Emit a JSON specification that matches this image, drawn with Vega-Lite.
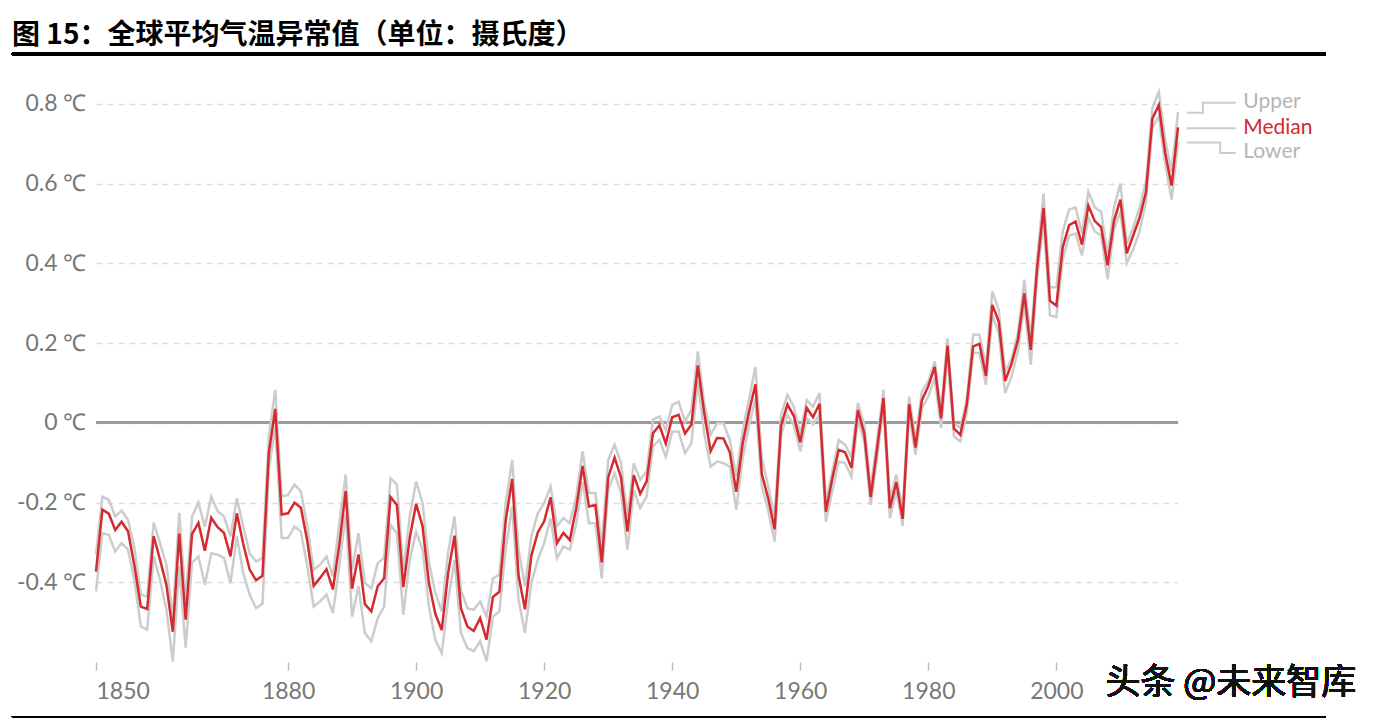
{
  "$schema": "https://vega.github.io/schema/vega-lite/v6.json",
  "width": 1082,
  "height": 578,
  "autosize": {"type": "none"},
  "padding": {"left": 96, "top": 84, "right": 205, "bottom": 59},
  "background": "white",
  "config": {"view": {"stroke": null}, "font": "Lato"},
  "title": {
    "text": "图 15：全球平均气温异常值（单位：摄氏度）",
    "font": "Noto Sans CJK SC",
    "fontSize": 28,
    "fontWeight": "bold",
    "color": "#000000",
    "anchor": "start",
    "frame": "group",
    "dx": -84,
    "offset": 38,
    "dy": 36
  },
  "datasets": {
    "temps": [
      {"year":1850,"median":-0.373,"upper":-0.33,"lower":-0.423},
      {"year":1851,"median":-0.218,"upper":-0.185,"lower":-0.277},
      {"year":1852,"median":-0.228,"upper":-0.193,"lower":-0.281},
      {"year":1853,"median":-0.269,"upper":-0.235,"lower":-0.323},
      {"year":1854,"median":-0.248,"upper":-0.22,"lower":-0.302},
      {"year":1855,"median":-0.272,"upper":-0.243,"lower":-0.318},
      {"year":1856,"median":-0.358,"upper":-0.314,"lower":-0.394},
      {"year":1857,"median":-0.461,"upper":-0.431,"lower":-0.511},
      {"year":1858,"median":-0.467,"upper":-0.436,"lower":-0.519},
      {"year":1859,"median":-0.284,"upper":-0.25,"lower":-0.335},
      {"year":1860,"median":-0.343,"upper":-0.302,"lower":-0.394},
      {"year":1861,"median":-0.407,"upper":-0.356,"lower":-0.469},
      {"year":1862,"median":-0.524,"upper":-0.49,"lower":-0.599},
      {"year":1863,"median":-0.278,"upper":-0.226,"lower":-0.36},
      {"year":1864,"median":-0.494,"upper":-0.444,"lower":-0.564},
      {"year":1865,"median":-0.279,"upper":-0.235,"lower":-0.351},
      {"year":1866,"median":-0.251,"upper":-0.2,"lower":-0.335},
      {"year":1867,"median":-0.321,"upper":-0.261,"lower":-0.406},
      {"year":1868,"median":-0.238,"upper":-0.185,"lower":-0.327},
      {"year":1869,"median":-0.262,"upper":-0.222,"lower":-0.331},
      {"year":1870,"median":-0.276,"upper":-0.235,"lower":-0.339},
      {"year":1871,"median":-0.335,"upper":-0.285,"lower":-0.402},
      {"year":1872,"median":-0.227,"upper":-0.189,"lower":-0.285},
      {"year":1873,"median":-0.304,"upper":-0.26,"lower":-0.377},
      {"year":1874,"median":-0.368,"upper":-0.327,"lower":-0.431},
      {"year":1875,"median":-0.395,"upper":-0.348,"lower":-0.465},
      {"year":1876,"median":-0.384,"upper":-0.339,"lower":-0.454},
      {"year":1877,"median":-0.075,"upper":-0.034,"lower":-0.118},
      {"year":1878,"median":0.035,"upper":0.083,"lower":-0.009},
      {"year":1879,"median":-0.23,"upper":-0.185,"lower":-0.289},
      {"year":1880,"median":-0.227,"upper":-0.181,"lower":-0.289},
      {"year":1881,"median":-0.2,"upper":-0.155,"lower":-0.26},
      {"year":1882,"median":-0.213,"upper":-0.172,"lower":-0.273},
      {"year":1883,"median":-0.296,"upper":-0.26,"lower":-0.36},
      {"year":1884,"median":-0.409,"upper":-0.369,"lower":-0.461},
      {"year":1885,"median":-0.389,"upper":-0.356,"lower":-0.448},
      {"year":1886,"median":-0.367,"upper":-0.335,"lower":-0.431},
      {"year":1887,"median":-0.418,"upper":-0.385,"lower":-0.477},
      {"year":1888,"median":-0.307,"upper":-0.252,"lower":-0.36},
      {"year":1889,"median":-0.171,"upper":-0.13,"lower":-0.227},
      {"year":1890,"median":-0.416,"upper":-0.369,"lower":-0.486},
      {"year":1891,"median":-0.33,"upper":-0.277,"lower":-0.41},
      {"year":1892,"median":-0.455,"upper":-0.402,"lower":-0.527},
      {"year":1893,"median":-0.473,"upper":-0.415,"lower":-0.548},
      {"year":1894,"median":-0.41,"upper":-0.352,"lower":-0.49},
      {"year":1895,"median":-0.39,"upper":-0.339,"lower":-0.461},
      {"year":1896,"median":-0.186,"upper":-0.139,"lower":-0.256},
      {"year":1897,"median":-0.206,"upper":-0.155,"lower":-0.277},
      {"year":1898,"median":-0.412,"upper":-0.369,"lower":-0.481},
      {"year":1899,"median":-0.289,"upper":-0.235,"lower":-0.344},
      {"year":1900,"median":-0.203,"upper":-0.147,"lower":-0.273},
      {"year":1901,"median":-0.259,"upper":-0.201,"lower":-0.318},
      {"year":1902,"median":-0.402,"upper":-0.35,"lower":-0.46},
      {"year":1903,"median":-0.479,"upper":-0.427,"lower":-0.544},
      {"year":1904,"median":-0.52,"upper":-0.473,"lower":-0.578},
      {"year":1905,"median":-0.377,"upper":-0.325,"lower":-0.445},
      {"year":1906,"median":-0.283,"upper":-0.235,"lower":-0.344},
      {"year":1907,"median":-0.465,"upper":-0.419,"lower":-0.527},
      {"year":1908,"median":-0.511,"upper":-0.465,"lower":-0.565},
      {"year":1909,"median":-0.522,"upper":-0.469,"lower":-0.573},
      {"year":1910,"median":-0.49,"upper":-0.448,"lower":-0.548},
      {"year":1911,"median":-0.544,"upper":-0.486,"lower":-0.598},
      {"year":1912,"median":-0.437,"upper":-0.39,"lower":-0.486},
      {"year":1913,"median":-0.424,"upper":-0.381,"lower":-0.473},
      {"year":1914,"median":-0.244,"upper":-0.201,"lower":-0.315},
      {"year":1915,"median":-0.141,"upper":-0.093,"lower":-0.21},
      {"year":1916,"median":-0.383,"upper":-0.318,"lower":-0.444},
      {"year":1917,"median":-0.468,"upper":-0.41,"lower":-0.527},
      {"year":1918,"median":-0.333,"upper":-0.285,"lower":-0.402},
      {"year":1919,"median":-0.275,"upper":-0.227,"lower":-0.344},
      {"year":1920,"median":-0.247,"upper":-0.201,"lower":-0.302},
      {"year":1921,"median":-0.187,"upper":-0.16,"lower":-0.24},
      {"year":1922,"median":-0.302,"upper":-0.26,"lower":-0.34},
      {"year":1923,"median":-0.276,"upper":-0.239,"lower":-0.31},
      {"year":1924,"median":-0.294,"upper":-0.252,"lower":-0.318},
      {"year":1925,"median":-0.215,"upper":-0.185,"lower":-0.255},
      {"year":1926,"median":-0.108,"upper":-0.072,"lower":-0.147},
      {"year":1927,"median":-0.21,"upper":-0.176,"lower":-0.252},
      {"year":1928,"median":-0.206,"upper":-0.176,"lower":-0.252},
      {"year":1929,"median":-0.35,"upper":-0.31,"lower":-0.39},
      {"year":1930,"median":-0.137,"upper":-0.093,"lower":-0.168},
      {"year":1931,"median":-0.087,"upper":-0.055,"lower":-0.126},
      {"year":1932,"median":-0.137,"upper":-0.101,"lower":-0.176},
      {"year":1933,"median":-0.273,"upper":-0.235,"lower":-0.318},
      {"year":1934,"median":-0.131,"upper":-0.101,"lower":-0.168},
      {"year":1935,"median":-0.178,"upper":-0.143,"lower":-0.214},
      {"year":1936,"median":-0.147,"upper":-0.122,"lower":-0.185},
      {"year":1937,"median":-0.026,"upper":0.008,"lower":-0.059},
      {"year":1938,"median":-0.006,"upper":0.016,"lower":-0.043},
      {"year":1939,"median":-0.052,"upper":-0.018,"lower":-0.085},
      {"year":1940,"median":0.014,"upper":0.045,"lower":-0.022},
      {"year":1941,"median":0.02,"upper":0.053,"lower":-0.022},
      {"year":1942,"median":-0.027,"upper":0.003,"lower":-0.076},
      {"year":1943,"median":-0.004,"upper":0.033,"lower":-0.051},
      {"year":1944,"median":0.144,"upper":0.179,"lower":0.104},
      {"year":1945,"median":0.025,"upper":0.049,"lower":-0.026},
      {"year":1946,"median":-0.071,"upper":-0.03,"lower":-0.11},
      {"year":1947,"median":-0.038,"upper":-0.001,"lower":-0.097},
      {"year":1948,"median":-0.039,"upper":-0.001,"lower":-0.101},
      {"year":1949,"median":-0.074,"upper":-0.043,"lower":-0.11},
      {"year":1950,"median":-0.173,"upper":-0.135,"lower":-0.218},
      {"year":1951,"median":-0.052,"upper":-0.02,"lower":-0.09},
      {"year":1952,"median":0.028,"upper":0.06,"lower":-0.005},
      {"year":1953,"median":0.097,"upper":0.14,"lower":0.06},
      {"year":1954,"median":-0.129,"upper":-0.09,"lower":-0.16},
      {"year":1955,"median":-0.19,"upper":-0.16,"lower":-0.22},
      {"year":1956,"median":-0.267,"upper":-0.235,"lower":-0.298},
      {"year":1957,"median":-0.007,"upper":0.02,"lower":-0.03},
      {"year":1958,"median":0.046,"upper":0.07,"lower":0.02},
      {"year":1959,"median":0.017,"upper":0.04,"lower":-0.005},
      {"year":1960,"median":-0.049,"upper":-0.03,"lower":-0.072},
      {"year":1961,"median":0.038,"upper":0.057,"lower":0.012},
      {"year":1962,"median":0.014,"upper":0.04,"lower":-0.004},
      {"year":1963,"median":0.048,"upper":0.075,"lower":0.02},
      {"year":1964,"median":-0.223,"upper":-0.2,"lower":-0.248},
      {"year":1965,"median":-0.14,"upper":-0.122,"lower":-0.172},
      {"year":1966,"median":-0.068,"upper":-0.043,"lower":-0.097},
      {"year":1967,"median":-0.074,"upper":-0.055,"lower":-0.101},
      {"year":1968,"median":-0.113,"upper":-0.085,"lower":-0.135},
      {"year":1969,"median":0.032,"upper":0.05,"lower":0.008},
      {"year":1970,"median":-0.027,"upper":-0.005,"lower":-0.047},
      {"year":1971,"median":-0.186,"upper":-0.164,"lower":-0.206},
      {"year":1972,"median":-0.065,"upper":-0.045,"lower":-0.09},
      {"year":1973,"median":0.062,"upper":0.083,"lower":0.041},
      {"year":1974,"median":-0.214,"upper":-0.193,"lower":-0.239},
      {"year":1975,"median":-0.149,"upper":-0.13,"lower":-0.172},
      {"year":1976,"median":-0.241,"upper":-0.218,"lower":-0.258},
      {"year":1977,"median":0.047,"upper":0.066,"lower":0.024},
      {"year":1978,"median":-0.062,"upper":-0.043,"lower":-0.08},
      {"year":1979,"median":0.057,"upper":0.079,"lower":0.037},
      {"year":1980,"median":0.092,"upper":0.104,"lower":0.066},
      {"year":1981,"median":0.14,"upper":0.154,"lower":0.112},
      {"year":1982,"median":0.011,"upper":0.033,"lower":-0.013},
      {"year":1983,"median":0.194,"upper":0.212,"lower":0.17},
      {"year":1984,"median":-0.014,"upper":-0.001,"lower":-0.034},
      {"year":1985,"median":-0.03,"upper":-0.013,"lower":-0.047},
      {"year":1986,"median":0.045,"upper":0.058,"lower":0.024},
      {"year":1987,"median":0.192,"upper":0.221,"lower":0.175},
      {"year":1988,"median":0.198,"upper":0.221,"lower":0.175},
      {"year":1989,"median":0.118,"upper":0.141,"lower":0.095},
      {"year":1990,"median":0.296,"upper":0.33,"lower":0.27},
      {"year":1991,"median":0.254,"upper":0.283,"lower":0.225},
      {"year":1992,"median":0.105,"upper":0.128,"lower":0.075},
      {"year":1993,"median":0.148,"upper":0.16,"lower":0.116},
      {"year":1994,"median":0.208,"upper":0.225,"lower":0.18},
      {"year":1995,"median":0.325,"upper":0.359,"lower":0.3},
      {"year":1996,"median":0.183,"upper":0.21,"lower":0.146},
      {"year":1997,"median":0.39,"upper":0.41,"lower":0.36},
      {"year":1998,"median":0.539,"upper":0.575,"lower":0.51},
      {"year":1999,"median":0.306,"upper":0.34,"lower":0.27},
      {"year":2000,"median":0.294,"upper":0.34,"lower":0.265},
      {"year":2001,"median":0.441,"upper":0.48,"lower":0.41},
      {"year":2002,"median":0.496,"upper":0.535,"lower":0.47},
      {"year":2003,"median":0.505,"upper":0.54,"lower":0.475},
      {"year":2004,"median":0.447,"upper":0.475,"lower":0.42},
      {"year":2005,"median":0.545,"upper":0.58,"lower":0.515},
      {"year":2006,"median":0.506,"upper":0.54,"lower":0.48},
      {"year":2007,"median":0.491,"upper":0.53,"lower":0.47},
      {"year":2008,"median":0.395,"upper":0.42,"lower":0.36},
      {"year":2009,"median":0.506,"upper":0.54,"lower":0.485},
      {"year":2010,"median":0.56,"upper":0.6,"lower":0.53},
      {"year":2011,"median":0.425,"upper":0.45,"lower":0.4},
      {"year":2012,"median":0.47,"upper":0.49,"lower":0.435},
      {"year":2013,"median":0.514,"upper":0.54,"lower":0.48},
      {"year":2014,"median":0.579,"upper":0.605,"lower":0.555},
      {"year":2015,"median":0.763,"upper":0.79,"lower":0.74},
      {"year":2016,"median":0.797,"upper":0.83,"lower":0.77},
      {"year":2017,"median":0.677,"upper":0.71,"lower":0.65},
      {"year":2018,"median":0.595,"upper":0.63,"lower":0.56},
      {"year":2019,"median":0.741,"upper":0.78,"lower":0.703}
    ],
    "connectors": [
      {"series":"Upper","order":1,"year":2020.4,"value":0.778},
      {"series":"Upper","order":2,"year":2022.9,"value":0.778},
      {"series":"Upper","order":3,"year":2022.9,"value":0.803},
      {"series":"Upper","order":4,"year":2028.0,"value":0.803},
      {"series":"Median","order":1,"year":2020.4,"value":0.739},
      {"series":"Median","order":2,"year":2028.0,"value":0.739},
      {"series":"Lower","order":1,"year":2020.4,"value":0.703},
      {"series":"Lower","order":2,"year":2025.6,"value":0.703},
      {"series":"Lower","order":3,"year":2025.6,"value":0.677},
      {"series":"Lower","order":4,"year":2028.0,"value":0.677}
    ],
    "labels": [
      {"series":"Upper","year":2029.2,"value":0.805},
      {"series":"Median","year":2029.2,"value":0.74},
      {"series":"Lower","year":2029.2,"value":0.68}
    ]
  },
  "data": {"name": "temps"},
  "layer": [
    {
      "mark": {"type": "rule", "color": "#9a9a9a", "strokeWidth": 2},
      "encoding": {"y": {"datum": 0, "type": "quantitative"}}
    },
    {
      "mark": {"type": "line", "color": "#cccccc", "strokeWidth": 2.5},
      "encoding": {
        "x": {
          "field": "year", "type": "quantitative",
          "scale": {"domain": [1850, 2019], "nice": false, "zero": false},
          "axis": {
            "title": null, "values": [1850, 1880, 1900, 1920, 1940, 1960, 1980, 2000],
            "format": "d", "grid": false, "domain": false,
            "ticks": true, "tickColor": "#bbbbbb", "tickSize": 8, "tickWidth": 1.5,
            "labelFont": "Lato", "labelFontSize": 23, "labelColor": "#777777",
            "labelPadding": 10, "labelFlush": true
          }
        },
        "y": {
          "field": "upper", "type": "quantitative",
          "scale": {"domain": [-0.6, 0.85], "nice": false, "zero": false},
          "axis": {
            "title": null, "values": [-0.4, -0.2, 0, 0.2, 0.4, 0.6, 0.8],
            "labelExpr": "datum.value + ' ℃'",
            "domain": false, "ticks": false,
            "grid": true, "gridColor": "#dddddd", "gridDash": [6, 5], "gridWidth": 1.5,
            "labelFont": "Lato", "labelFontSize": 23, "labelColor": "#777777",
            "labelPadding": 10
          }
        }
      }
    },
    {
      "mark": {"type": "line", "color": "#cccccc", "strokeWidth": 2.5},
      "encoding": {
        "x": {"field": "year", "type": "quantitative"},
        "y": {"field": "lower", "type": "quantitative"}
      }
    },
    {
      "mark": {"type": "line", "color": "#d42a30", "strokeWidth": 2.5},
      "encoding": {
        "x": {"field": "year", "type": "quantitative"},
        "y": {"field": "median", "type": "quantitative"}
      }
    },
    {
      "data": {"name": "connectors"},
      "mark": {"type": "line", "color": "#cccccc", "strokeWidth": 2, "clip": false},
      "encoding": {
        "x": {"field": "year", "type": "quantitative"},
        "y": {"field": "value", "type": "quantitative"},
        "detail": {"field": "series"},
        "order": {"field": "order"}
      }
    },
    {
      "data": {"name": "labels"},
      "mark": {"type": "text", "align": "left", "baseline": "middle", "font": "Lato", "fontSize": 21, "clip": false},
      "encoding": {
        "x": {"field": "year", "type": "quantitative"},
        "y": {"field": "value", "type": "quantitative"},
        "text": {"field": "series"},
        "color": {
          "field": "series", "type": "nominal",
          "scale": {"domain": ["Upper", "Median", "Lower"], "range": ["#b5b5b5", "#d42a30", "#b5b5b5"]},
          "legend": null
        }
      }
    },
    {
      "mark": {"type": "rule", "color": "#000000", "strokeWidth": 3, "clip": false},
      "encoding": {
        "x": {"datum": 1836.875, "type": "quantitative"},
        "x2": {"datum": 2042.03},
        "y": {"datum": 0.9254, "type": "quantitative"}
      }
    },
    {
      "mark": {"type": "rule", "color": "#000000", "strokeWidth": 1.5, "clip": false},
      "encoding": {
        "x": {"datum": 1836.875, "type": "quantitative"},
        "x2": {"datum": 2042.03},
        "y": {"datum": -0.7373, "type": "quantitative"}
      }
    },
    {
      "mark": {"type": "text", "align": "left", "baseline": "middle", "font": "Noto Sans CJK SC", "fontSize": 35, "color": "#111111", "clip": false, "text": "头条 @未来智库"},
      "encoding": {
        "x": {"datum": 2007.66, "type": "quantitative"},
        "y": {"datum": -0.652, "type": "quantitative"}
      }
    }
  ]
}
